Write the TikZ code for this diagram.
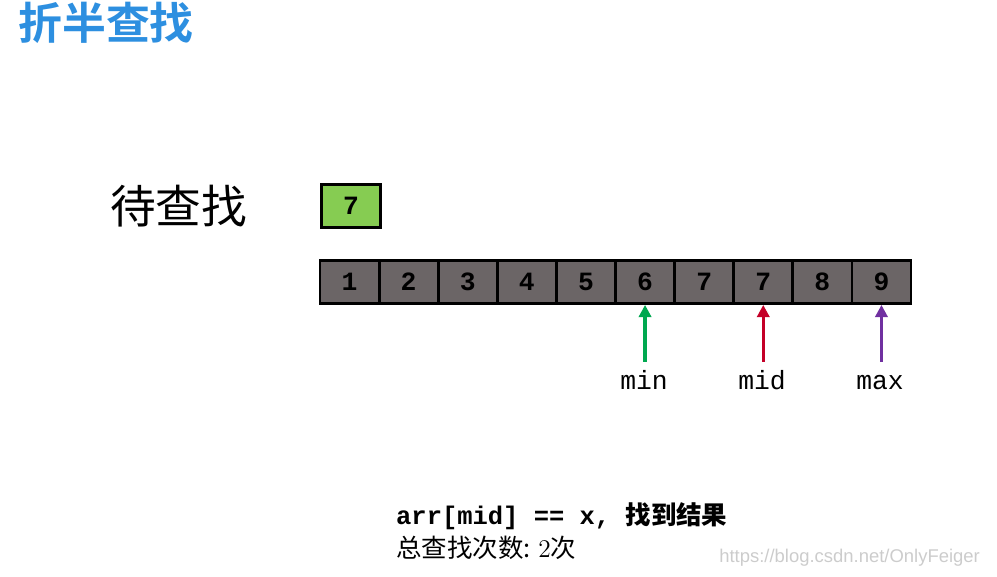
\documentclass[tikz,border=0pt]{standalone}
\usepackage{fontspec}
\setmonofont{Liberation Mono}
\setsansfont{Liberation Sans}
\newfontfamily\cjk{Noto Sans CJK SC}
\newfontfamily\cjkb{Noto Sans CJK SC Bold}
\usetikzlibrary{arrows.meta}
\begin{document}
\begin{tikzpicture}[x=0.02cm,y=-0.02cm,
  cell/.style={draw=black,line width=1.6pt,fill=cellgray,minimum width=59.1*0.02cm,minimum height=43*0.02cm,inner sep=0,font=\ttfamily\bfseries\fontsize{15}{15}\selectfont},
  ptr/.style={-{Triangle[length=7pt,width=7pt]},line width=1.8pt},
  lbl/.style={font=\ttfamily\fontsize{15}{15}\selectfont,anchor=base}]
\definecolor{cellgray}{HTML}{6B6566}
\definecolor{ttl}{HTML}{2D8FE0}
\definecolor{gr}{HTML}{86CC52}
\useasboundingbox (0,0) rectangle (997,577);
\node[anchor=west,text=ttl,font=\cjkb\fontsize{25}{25}\selectfont] (title) at (12,23) {折半查找};
\node[anchor=west,font=\cjk\fontsize{26}{26}\selectfont] (lab) at (104,206) {待查找};
\node[cell,fill=gr] (key) at (351,206) {7};
\foreach \v [count=\i] in {1,2,3,4,5,6,7,7,8,9}
  \node[cell] (c\i) at ({320+59.1*(\i-0.5)},282) {\v};
\coordinate (pmin) at (c6.south |- 0,362);
\coordinate (pmid) at (c8.south |- 0,362);
\coordinate (pmax) at (c10.south |- 0,362);
\draw[ptr,draw={rgb,255:red,0;green,168;blue,80},fill={rgb,255:red,0;green,168;blue,80}] (pmin) -- (c6.south);
\draw[ptr,draw={rgb,255:red,196;green,0;blue,40},fill={rgb,255:red,196;green,0;blue,40}] (pmid) -- (c8.south);
\draw[ptr,draw={rgb,255:red,112;green,48;blue,160},fill={rgb,255:red,112;green,48;blue,160}] (pmax) -- (c10.south);
\node[lbl] (tmin) at (644,390) {min};
\node[lbl] (tmid) at (762,390) {mid};
\node[lbl] (tmax) at (880,390) {max};
\node[anchor=base west,font=\fontsize{14.5}{14.5}\selectfont] (r1) at (390,524) {\ttfamily\bfseries arr[mid] == x, \cjk 找到结果};
\node[anchor=base west,font=\fontsize{14.5}{14.5}\selectfont] (r2) at (390,557) {\cjk 总查找次数: \rmfamily 2\cjk 次};
\node[anchor=base east,text=gray!40,font=\sffamily\fontsize{10.5}{10.5}\selectfont] (wm) at (986,562) {https://blog.csdn.net/OnlyFeiger};
\end{tikzpicture}
\end{document}
